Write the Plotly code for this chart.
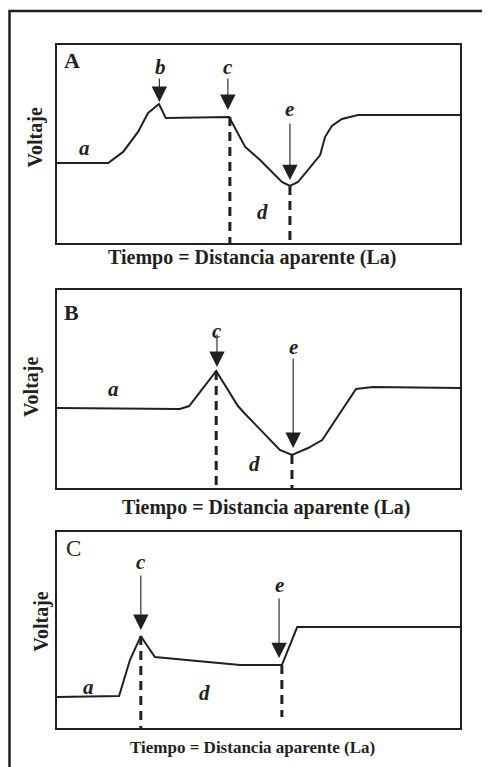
import plotly.graph_objects as go

# ---------------- data (time = apparent distance, voltage), arbitrary 0-100 units ----------------
A_t = [0, 12.7, 16.4, 20.1, 22.6, 24.1, 25.3, 27.0, 42.7, 46.7, 50.4, 55.8, 57.8, 59.8, 65.3, 66.5, 68.2, 70.7, 74.7, 100]
A_v = [40.4, 40.4, 46.0, 56.1, 65.7, 68.2, 70.2, 63.1, 63.6, 48.5, 41.9, 30.8, 28.8, 30.8, 44.4, 53.5, 59.1, 62.6, 64.6, 64.6]
A_dash_x = [42.9, 57.8]
A_dash_top = [63.6, 28.8]
A_dash_bot = [0, 0]
A_arrow_x = [25.4, 42.4, 57.8]
A_arrow_y = [71.2, 67.2, 31.8]
A_arrow_len = [25, 33, 58]
A_lab = ["a", "b", "c", "d", "e"]
A_lab_x = [6.9, 25.6, 42.4, 51.1, 57.8]
A_lab_y = [48.0, 88.9, 88.9, 15.7, 67.7]

B_t = [0, 30.5, 32.8, 39.5, 44.9, 46.7, 55.3, 58.3, 62.3, 65.8, 74.2, 78.4, 100]
B_v = [40.4, 39.9, 41.4, 59.1, 41.4, 37.4, 19.2, 16.7, 20.2, 24.2, 50.0, 51.0, 50.5]
B_dash_x = [39.5, 58.3]
B_dash_top = [59.1, 16.7]
B_dash_bot = [0, 0]
B_arrow_x = [39.7, 58.6]
B_arrow_y = [61.1, 20.2]
B_arrow_len = [34, 91]
B_lab = ["a", "c", "d", "e"]
B_lab_x = [13.9, 39.7, 48.9, 58.6]
B_lab_y = [50.0, 79.3, 12.1, 71.2]

C_t = [0, 15.4, 18.1, 20.8, 22.6, 24.3, 45.4, 55.8, 59.6, 100]
C_v = [15.8, 16.3, 34.7, 46.9, 41.3, 36.2, 32.1, 32.1, 51.5, 51.5]
C_dash_x = [20.8, 55.8]
C_dash_top = [46.9, 32.1]
C_dash_bot = [0, 5.6]
C_arrow_x = [20.8, 55.1]
C_arrow_y = [50.0, 35.7]
C_arrow_len = [56, 61]
C_lab = ["a", "c", "d", "e"]
C_lab_x = [7.7, 20.8, 36.7, 55.1]
C_lab_y = [20.9, 84.7, 17.9, 73.0]

panel_names = ["A", "B", "C"]
panel_name_pos = [(3.8, 92.2), (3.7, 88.4), (4.1, 91.6)]
x_title = "Tiempo = Distancia aparente (La)"
y_title = "Voltaje"

# ---------------- figure ----------------
OFF = 8                      # page body margin of the html page
W, H = 490 - OFF, 767 - OFF
INK = "#231f20"
FONT = "Liberation Serif, Times New Roman, serif"

# panel boxes in window pixels (left, right, top, bottom)
boxes = [(57, 460, 45, 243), (57, 460, 290, 488), (57, 460, 532, 728)]

fig = go.Figure()
layout_axes = {}
panels = [
    (A_t, A_v, A_dash_x, A_dash_top, A_dash_bot, A_arrow_x, A_arrow_y, A_arrow_len, A_lab, A_lab_x, A_lab_y),
    (B_t, B_v, B_dash_x, B_dash_top, B_dash_bot, B_arrow_x, B_arrow_y, B_arrow_len, B_lab, B_lab_x, B_lab_y),
    (C_t, C_v, C_dash_x, C_dash_top, C_dash_bot, C_arrow_x, C_arrow_y, C_arrow_len, C_lab, C_lab_x, C_lab_y),
]

annotations = []
xtitle_cfg = [(0.485, -14, 20), (0.519, -19, 20), (0.484, -19, 17)]
ytitle_cfg = [(-21.5, 0.53), (-26, 0.51), (-15.5, 0.54)]
name_cfg = [("<b>A</b>", 22), ("<b>B</b>", 22), ("C", 23)]

for i, (t, v, dx, dtop, dbot, ax_, ay_, alen, lab, lx, ly) in enumerate(panels):
    n = i + 1
    xa = "x" if n == 1 else f"x{n}"
    ya = "y" if n == 1 else f"y{n}"
    l, r, tp, bt = [p - OFF for p in boxes[i]]
    axis_common = dict(range=[0, 100], showgrid=False, zeroline=False, showticklabels=False,
                       ticks="", showline=True, linecolor=INK, linewidth=2, mirror=True,
                       fixedrange=True)
    layout_axes["xaxis" if n == 1 else f"xaxis{n}"] = dict(axis_common, domain=[l / W, r / W], anchor=ya)
    layout_axes["yaxis" if n == 1 else f"yaxis{n}"] = dict(axis_common, domain=[1 - bt / H, 1 - tp / H], anchor=xa)

    # curve
    fig.add_trace(go.Scatter(x=t, y=v, mode="lines", line=dict(color=INK, width=2),
                             xaxis=xa, yaxis=ya, hoverinfo="skip", showlegend=False, cliponaxis=False))
    # dashed verticals
    for xx, y0, y1 in zip(dx, dtop, dbot):
        fig.add_trace(go.Scatter(x=[xx, xx], y=[y0, y1], mode="lines",
                                 line=dict(color=INK, width=3, dash="9px,6px"),
                                 xaxis=xa, yaxis=ya, hoverinfo="skip", showlegend=False))
    # arrows
    for xx, yy, ln in zip(ax_, ay_, alen):
        annotations.append(dict(x=xx, y=yy, xref=xa, yref=ya, text="", showarrow=True,
                                ax=0, ay=-ln, arrowhead=2, arrowsize=2.8, arrowwidth=1.1,
                                arrowcolor=INK, standoff=0))
    # letters
    for s, xx, yy in zip(lab, lx, ly):
        annotations.append(dict(x=xx, y=yy, xref=xa, yref=ya, text=f"<b><i>{s}</i></b>",
                                showarrow=False, font=dict(family=FONT, size=21, color=INK),
                                xanchor="center", yanchor="middle"))
    # panel name
    nm, nsz = name_cfg[i]
    annotations.append(dict(x=panel_name_pos[i][0], y=panel_name_pos[i][1], xref=xa, yref=ya,
                            text=nm, showarrow=False, font=dict(family=FONT, size=nsz, color=INK),
                            xanchor="center", yanchor="middle"))
    # axis titles
    xc, ysh, fsz = xtitle_cfg[i]
    annotations.append(dict(x=xc, y=0, xref=f"{xa} domain", yref=f"{ya} domain", yshift=ysh,
                            text=f"<b>{x_title}</b>", showarrow=False,
                            font=dict(family=FONT, size=fsz, color=INK),
                            xanchor="center", yanchor="middle"))
    xsh, yc = ytitle_cfg[i]
    annotations.append(dict(x=0, y=yc, xref=f"{xa} domain", yref=f"{ya} domain", xshift=xsh,
                            text=f"<b>{y_title}</b>", showarrow=False, textangle=-90,
                            font=dict(family=FONT, size=20, color=INK),
                            xanchor="center", yanchor="middle"))

# outer frame (left and top edges visible; right/bottom run off the page)
shapes = [dict(type="rect", xref="paper", yref="paper", x0=(9.5 - OFF) / W, x1=1.05, y0=-0.05,
               y1=1 - (11 - OFF) / H, line=dict(color=INK, width=2.5), fillcolor="rgba(0,0,0,0)")]

fig.update_layout(width=W, height=H, margin=dict(l=0, r=0, t=0, b=0),
                  paper_bgcolor="white", plot_bgcolor="white",
                  annotations=annotations, shapes=shapes, showlegend=False, **layout_axes)

fig.write_html("out.html", config={"displayModeBar": False})
